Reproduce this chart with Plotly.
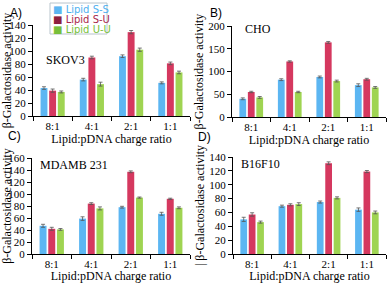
import plotly.graph_objects as go

categories = ["8:1", "4:1", "2:1", "1:1"]
series_names = ["Lipid S-S", "Lipid S-U", "Lipid U-U"]
colors = ["#5cb6f2", "#d5385f", "#9fd452"]
legend_text_colors = ["#4fb0f0", "#a8284c", "#78bf3a"]
legend_square_colors = ["#5cb6f2", "#8e1f3e", "#78bf3a"]

# Panel A: SKOV3
skov3_ss = [43, 56, 92, 51]
skov3_su = [39, 90, 129, 81]
skov3_uu = [37, 49, 102, 67]
# Panel B: CHO
cho_ss = [40, 82, 88, 70]
cho_su = [55, 122, 164, 83]
cho_uu = [43, 55, 79, 65]
# Panel C: MDAMB 231
mdamb_ss = [47, 59, 78, 67]
mdamb_su = [42, 84, 137, 92]
mdamb_uu = [41, 76, 94, 77]
# Panel D: B16F10
b16_ss = [50, 69, 75, 64]
b16_su = [57, 71, 131, 119]
b16_uu = [46, 72, 81, 60]

# error bars
skov3_err = [[2, 2, 2, 1.5], [2.5, 2, 2.5, 2], [1.5, 3, 2.5, 2]]
cho_err = [[2, 2, 2, 3], [1.5, 1.5, 2, 2], [2, 1.5, 2, 2]]
mdamb_err = [[2.5, 3, 1.5, 2.5], [2.5, 1.5, 1.5, 1], [1.5, 2.5, 1, 1.5]]
b16_err = [[3, 1.5, 1.5, 2.5], [2.5, 1.5, 2, 1.5], [1.5, 2, 1.5, 2]]

panels = [
    ("A)", "SKOV3", [skov3_ss, skov3_su, skov3_uu], skov3_err, [0, 140], 20),
    ("B)", "CHO", [cho_ss, cho_su, cho_uu], cho_err, [0, 200], 50),
    ("C)", "MDAMB 231", [mdamb_ss, mdamb_su, mdamb_uu], mdamb_err, [0, 160], 20),
    ("D)", "B16F10", [b16_ss, b16_su, b16_uu], b16_err, [0, 140], 20),
]

W, H = 388, 283
# pixel boxes (left, right, top, bottom)
boxes = [(33, 190, 25, 116), (232, 386, 26, 117), (32, 190, 158, 254), (233, 386, 157, 254)]

fig = go.Figure()
serif = "Liberation Serif"
sans = "Liberation Sans"

layout = {}
for i, (lab, name, vals, errs, yr, dt) in enumerate(panels):
    n = "" if i == 0 else str(i + 1)
    xa, ya = "x" + n, "y" + n
    for s in range(3):
        fig.add_trace(go.Bar(
            x=categories, y=vals[s], name=series_names[s],
            marker=dict(color=colors[s], line=dict(width=0)),
            error_y=dict(type="data", array=errs[s], color="#555555", thickness=0.8, width=2),
            xaxis=xa, yaxis=ya, showlegend=False,
        ))
    l, r, t, b = boxes[i]
    layout["xaxis" + n] = dict(
        domain=[l / W, r / W], anchor=ya, showline=True, linecolor="black", linewidth=1,
        ticks="outside", tickson="boundaries", ticklen=4, tickcolor="black",
        tickfont=dict(family=serif, size=11, color="black"),
        title=dict(text="Lipid:pDNA charge ratio", font=dict(family=serif, size=12, color="black"), standoff=0),
        showgrid=False, fixedrange=True, automargin=False,
    )
    layout["yaxis" + n] = dict(
        domain=[1 - b / H, 1 - t / H], anchor=xa, range=yr, dtick=dt,
        showline=True, linecolor="black", linewidth=1, ticks="outside", ticklen=4, tickcolor="black",
        tickfont=dict(family=serif, size=11, color="black"),
        title=dict(text=("| " if i == 3 else "") + "β-Galactosidase activity",
                   font=dict(family=serif, size=12, color="black"), standoff=2),
        showgrid=False, zeroline=False, fixedrange=True, automargin=False,
    )

fig.update_layout(**layout)
fig.update_layout(
    width=W, height=H, margin=dict(l=0, r=0, t=0, b=0, autoexpand=False),
    paper_bgcolor="white", plot_bgcolor="white",
    barmode="group", bargap=0.34, bargroupgap=0.2,
    showlegend=False,
)

# legend box drawn as a shape with text entries
fig.add_shape(type="rect", xref="paper", yref="paper",
              x0=50 / W, x1=107 / W, y0=1 - 34 / H, y1=1 - 3 / H,
              line=dict(color="#b8c4cc", width=1), fillcolor="white")
for s in range(3):
    yy = 1 - (9 + 10 * s) / H
    fig.add_annotation(text=f'<span style="color:{legend_square_colors[s]}">■</span> '
                            f'<span style="color:{legend_text_colors[s]}">{series_names[s]}</span>',
                       x=51 / W, y=yy, xref="paper", yref="paper", showarrow=False,
                       xanchor="left", yanchor="middle", font=dict(family="DejaVu Sans", size=10))

annos = [
    ("A)", 8, 13), ("B)", 208, 13), ("C)", 6, 136), ("D)", 196, 137),
]
for txt, x, y in annos:
    fig.add_annotation(text=txt, x=x / W, y=1 - y / H, xref="paper", yref="paper",
                       showarrow=False, xanchor="left", yanchor="middle",
                       font=dict(family=sans, size=12, color="black"))
names_pos = [("SKOV3", 44, 60), ("CHO", 243, 29), ("MDAMB 231", 38, 165), ("B16F10", 239, 164)]
for txt, x, y in names_pos:
    fig.add_annotation(text=txt, x=x / W, y=1 - y / H, xref="paper", yref="paper",
                       showarrow=False, xanchor="left", yanchor="middle",
                       font=dict(family=serif, size=12, color="black"))

fig.write_html("out.html", config={"displayModeBar": False},
               post_script="document.body.style.margin='0';")
